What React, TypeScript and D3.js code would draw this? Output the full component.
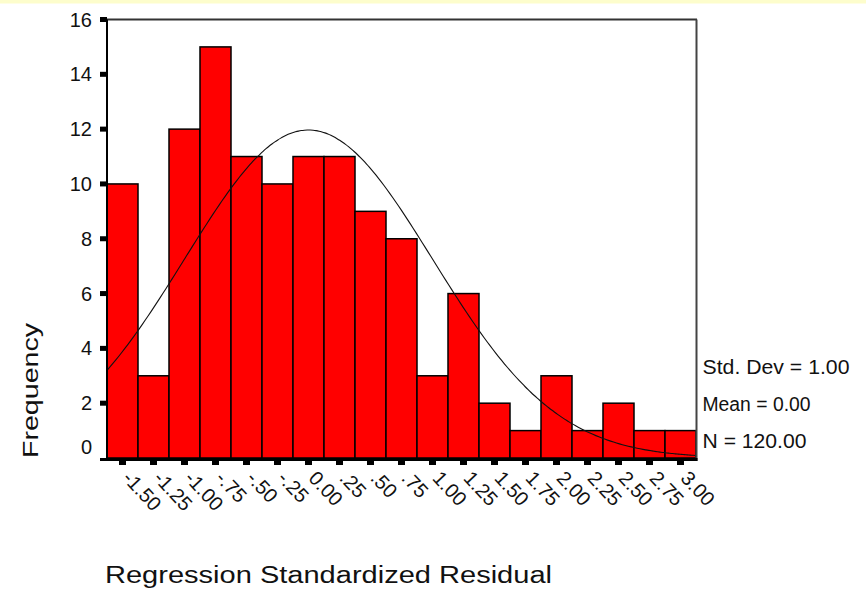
import React from "react";
import * as d3 from "d3";

// Histogram bins (centre of each 0.25-wide bin) and their counts
const binCenters = [-1.5, -1.25, -1.0, -0.75, -0.5, -0.25, 0.0, 0.25, 0.5, 0.75, 1.0, 1.25, 1.5, 1.75, 2.0, 2.25, 2.5, 2.75, 3.0];
const binLabels = ["-1.50", "-1.25", "-1.00", "-.75", "-.50", "-.25", "0.00", ".25", ".50", ".75", "1.00", "1.25", "1.50", "1.75", "2.00", "2.25", "2.50", "2.75", "3.00"];
const frequencies = [10, 3, 12, 15, 11, 10, 11, 11, 9, 8, 3, 6, 2, 1, 3, 1, 2, 1, 1];
const yTicks = [0, 2, 4, 6, 8, 10, 12, 14, 16];

const binWidth = 0.25;
const stdDev = 1.0;
const mean = 0.0;
const nCases = 120;

const statLines = [
  { text: `Std. Dev = ${stdDev.toFixed(2)}`, len: 147 },
  { text: `Mean = ${mean.toFixed(2)}`, len: 108 },
  { text: `N = ${nCases.toFixed(2)}`, len: 104 },
];

const W = 866;
const H = 591;
const FONT = "'Liberation Sans', Arial, Helvetica, sans-serif";

export default function App() {
  const x = d3
    .scaleLinear()
    .domain([binCenters[0] - binWidth / 2, binCenters[binCenters.length - 1] + binWidth / 2])
    .range([107, 696]);
  const y = d3.scaleLinear().domain([0, 16]).range([458, 19.5]);

  // Fitted normal curve scaled to the histogram (N * bin width * density)
  const [x0, x1] = x.domain();
  const curvePts = d3.range(0, 201).map((i) => {
    const v = x0 + ((x1 - x0) * i) / 200;
    const z = (v - mean) / stdDev;
    const f = (nCases * binWidth) / (stdDev * Math.sqrt(2 * Math.PI)) * Math.exp(-0.5 * z * z);
    return [v, f] as [number, number];
  });
  const line = d3
    .line<[number, number]>()
    .x((d) => x(d[0]))
    .y((d) => y(d[1]))
    .curve(d3.curveBasis);

  const left = x.range()[0];
  const right = x.range()[1];
  const top = y(16);
  const base = y(0);

  return (
    <svg
      width={W}
      height={H}
      viewBox={`0 0 ${W} ${H}`}
      style={{ position: "fixed", left: 0, top: 0, background: "#fff" }}
      fontFamily={FONT}
    >
      <rect x={0} y={0} width={W} height={H} fill="#ffffff" />
      <rect x={0} y={0} width={W} height={3.5} fill="#fdfdcc" />

      {/* bars */}
      {frequencies.map((f, i) => (
        <rect
          key={i}
          x={x(binCenters[i] - binWidth / 2)}
          y={y(f)}
          width={x(binCenters[i] + binWidth / 2) - x(binCenters[i] - binWidth / 2)}
          height={base - y(f)}
          fill="#ff0000"
          stroke="#000"
          strokeWidth={1.5}
        />
      ))}

      {/* normal curve */}
      <path d={line(curvePts) || ""} fill="none" stroke="#111" strokeWidth={1.1} />

      {/* frame */}
      <line x1={left} x2={right + 1} y1={top} y2={top} stroke="#333" strokeWidth={2} />
      <line x1={right + 0.5} x2={right + 0.5} y1={top} y2={base + 3} stroke="#444" strokeWidth={2} />
      <line x1={left} x2={left} y1={top} y2={base + 3} stroke="#000" strokeWidth={2} />
      <line x1={100} x2={right + 1.5} y1={base + 1.5} y2={base + 1.5} stroke="#000" strokeWidth={3} />

      {/* y ticks and labels */}
      {yTicks.map((t) => (
        <g key={t}>
          {t > 0 && <rect x={100} y={y(t) - 2.5} width={7} height={5} fill="#000" />}
          <text
            x={92}
            y={t === 0 ? y(t) - 11 : y(t)}
            textAnchor="end"
            dominantBaseline="central"
            fontSize={20}
            fill="#111"
          >
            {t}
          </text>
        </g>
      ))}

      {/* x ticks and rotated labels */}
      {binCenters.map((c, i) => (
        <g key={i}>
          <rect x={x(c) - 3.5} y={base + 3} width={7} height={4} fill="#000" />
          <text
            transform={`translate(${x(c) - 1},${base + 21}) rotate(47)`}
            fontSize={20}
            fill="#111"
          >
            {binLabels[i]}
          </text>
        </g>
      ))}

      {/* summary statistics */}
      {statLines.map((s, i) => (
        <text
          key={i}
          x={702.5}
          y={374 + i * 37}
          fontSize={20}
          fill="#111"
          textLength={s.len}
          lengthAdjust="spacingAndGlyphs"
        >
          {s.text}
        </text>
      ))}

      {/* axis titles */}
      <text
        transform={`translate(38,458) rotate(-90)`}
        fontSize={22}
        fill="#111"
        textLength={135}
        lengthAdjust="spacingAndGlyphs"
      >
        Frequency
      </text>
      <text
        x={105}
        y={583}
        fontSize={23}
        fill="#111"
        textLength={447}
        lengthAdjust="spacingAndGlyphs"
      >
        Regression Standardized Residual
      </text>
    </svg>
  );
}
